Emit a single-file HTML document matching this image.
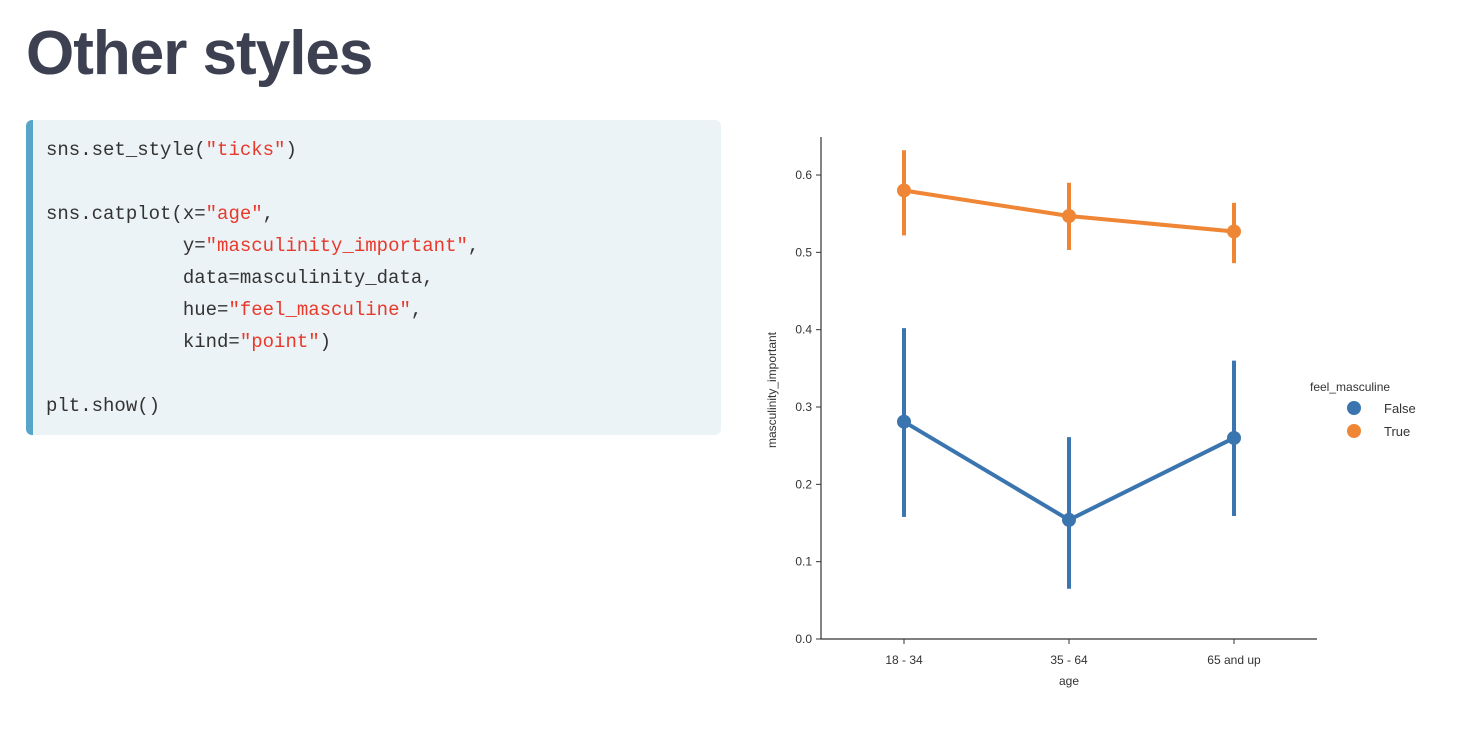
<!DOCTYPE html>
<html><head><meta charset="utf-8"><style>
body{margin:0;width:1466px;height:744px;background:#fff;position:relative;overflow:hidden;font-family:"Liberation Sans",sans-serif}
h1{position:absolute;left:26px;top:18px;margin:0;font-size:62px;font-weight:bold;color:#3c4050;letter-spacing:-1px}
.code{position:absolute;left:26px;top:120px;width:695px;height:315px;background:#ecf3f6;border-left:7px solid #57a6c9;border-radius:6px;box-sizing:border-box}
.code pre{margin:0;position:absolute;left:13px;top:14px;font-family:"Liberation Mono",monospace;font-size:19px;line-height:32px;color:#333}
.s{color:#e8392b}
svg{position:absolute;left:0;top:0}
</style></head><body>
<h1>Other styles</h1>
<div class="code"><pre>sns.set_style(<span class="s">"ticks"</span>)

sns.catplot(x=<span class="s">"age"</span>,
            y=<span class="s">"masculinity_important"</span>,
            data=masculinity_data,
            hue=<span class="s">"feel_masculine"</span>,
            kind=<span class="s">"point"</span>)

plt.show()</pre></div>
<svg id="chart" width="1466" height="744"></svg>
<script>
const categories=["18 - 34","35 - 64","65 and up"];
const yTicks=[0.0,0.1,0.2,0.3,0.4,0.5,0.6];
const falseMean=[0.281,0.154,0.260];
const falseLow=[0.158,0.065,0.159];
const falseHigh=[0.402,0.261,0.360];
const trueMean=[0.580,0.547,0.527];
const trueLow=[0.522,0.503,0.486];
const trueHigh=[0.632,0.590,0.564];
const svg=document.getElementById('chart');
const NS='http://www.w3.org/2000/svg';
const x0=821,x1=1317,yb=639,yt=137;
function X(i){return 904+i*165;}
function Y(v){return yb-v*773.3;}
function mk(t,a,p){const e=document.createElementNS(NS,t);for(const k in a)e.setAttribute(k,a[k]);(p||svg).appendChild(e);return e;}
let ax=mk('path',{d:`M${x0} ${yt}V${yb}H${x1}`,stroke:'#333',fill:'none','stroke-width':1.2});


yTicks.forEach(v=>{
 mk('line',{x1:x0-5,x2:x0,y1:Y(v),y2:Y(v),stroke:'#333'});
 const t=mk('text',{x:x0-9,y:Y(v)+4,'text-anchor':'end','font-size':12,fill:'#333'});
 t.textContent=v.toFixed(1);
 
 
});
categories.forEach((c,i)=>{
 mk('line',{x1:X(i),x2:X(i),y1:yb,y2:yb+5,stroke:'#333'});
 const t=mk('text',{x:X(i),y:yb+25,'text-anchor':'middle','font-size':12,fill:'#333'});
 t.textContent=c;
 
 
});
let xt=mk('text',{x:1069,y:685,'text-anchor':'middle','font-size':12,fill:'#333'});xt.textContent='age';


let yt2=mk('text',{x:776,y:390,'text-anchor':'middle','font-size':12,fill:'#333',transform:'rotate(-90 776 390)'});yt2.textContent='masculinity_important';


function series(m,lo,hi,col,name){
 const g=mk('g',{});
 
 
 m.forEach((v,i)=>mk('line',{x1:X(i),x2:X(i),y1:Y(lo[i]),y2:Y(hi[i]),stroke:col,'stroke-width':4},g));
 mk('polyline',{points:m.map((v,i)=>X(i)+','+Y(v)).join(' '),stroke:col,fill:'none','stroke-width':4},g);
 m.forEach((v,i)=>mk('circle',{cx:X(i),cy:Y(v),r:7,fill:col},g));
}
series(falseMean,falseLow,falseHigh,'#3a75b0','series-false');
series(trueMean,trueLow,trueHigh,'#ef8636','series-true');
let lt=mk('text',{x:1310,y:391,'font-size':12,fill:'#333'});lt.textContent='feel_masculine';


[['False','#3a75b0',408],['True','#ef8636',431]].forEach(([n,c,y])=>{
 const g=mk('g',{});
 
 
 mk('circle',{cx:1354,cy:y,r:7,fill:c},g);
 const t=mk('text',{x:1384,y:y+5,'font-size':13,fill:'#333'},g);t.textContent=n;
});
</script>
</body></html>
